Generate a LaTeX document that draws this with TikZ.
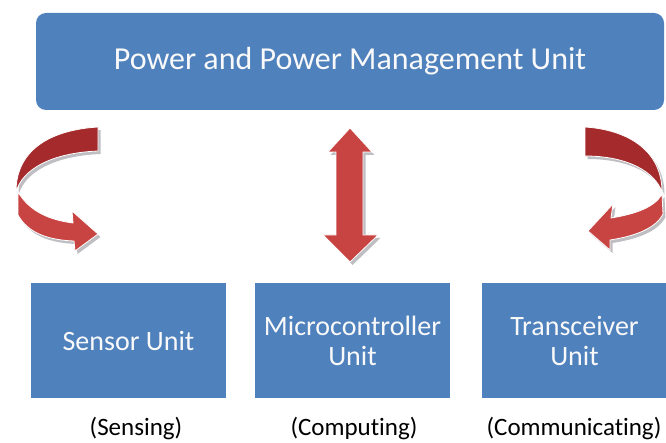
\documentclass[tikz,border=0pt]{standalone}
\usepackage{fontspec}
\setmainfont{Carlito}[Ligatures=NoCommon]

\begin{document}
\begin{tikzpicture}[x=1pt, y=-1pt,
  unitbox/.style={fill=unitblue, text=white!95!gray, minimum width=195pt, minimum height=115pt,
    inner sep=0pt, align=center, font=\fontsize{28}{30}\selectfont},
  rolelabel/.style={font=\fontsize{25}{30}\selectfont},
  ribbon/.style={draw=white, line width=0.8pt,
    preaction={fill=shadowgray, transform canvas={xshift=2.5pt, yshift=-3pt}}}
]

\definecolor{unitblue}{RGB}{79, 129, 189}
\definecolor{arrowred}{RGB}{200, 68, 66}
\definecolor{backred}{RGB}{165, 42, 44}
\definecolor{shadowgray}{RGB}{190, 190, 195}

\useasboundingbox (0,0) rectangle (666,443);

\node[fill=unitblue, text=white!95!gray, rounded corners=10pt, minimum width=628pt, minimum height=97pt,
  font=\fontsize{32}{36}\selectfont] (pmu) at (350,61.5) {Power and Power Management Unit};

\node[unitbox] (sensor) at (128.5,340.5) {Sensor Unit};
\node[unitbox] (mcu) at (352.5,340.5) {Microcontroller\\Unit};
\node[unitbox, minimum width=185pt] (radio) at (574.5,340.5) {Transceiver\\Unit};

\node[rolelabel] (sensing) at (136,429) {(Sensing)};
\node[rolelabel] (computing) at (354,429) {(Computing)};
\node[rolelabel] (comm) at (574,429) {(Communicating)};

\fill[backred, ribbon] (98,127) .. controls (50,130) and (16,150) .. (16,192)
  .. controls (22,170) and (50,153) .. (98,151) -- cycle;
\fill[arrowred, ribbon] (18,192) .. controls (30,212) and (50,220) .. (73,223) -- (72,211) -- (98,234)
  -- (75,251) -- (74,241) .. controls (48,240) and (28,233) .. (18,215) -- cycle;

\fill[backred, ribbon] (585,127) .. controls (630,130) and (662,152) .. (662,192)
  .. controls (655,172) and (628,156) .. (585,156) -- cycle;
\fill[arrowred, ribbon] (662,194) .. controls (655,207) and (636,214) .. (611,218) -- (613,204) -- (588,231)
  -- (610,250) -- (610,240) .. controls (636,236) and (656,228) .. (663,214) -- cycle;

\fill[arrowred, ribbon] (350,128) -- (372,152) -- (363,152) -- (363,235) -- (378,235) -- (350,262)
  -- (323,235) -- (336,235) -- (336,152) -- (328,152) -- cycle;

\end{tikzpicture}
\end{document}
